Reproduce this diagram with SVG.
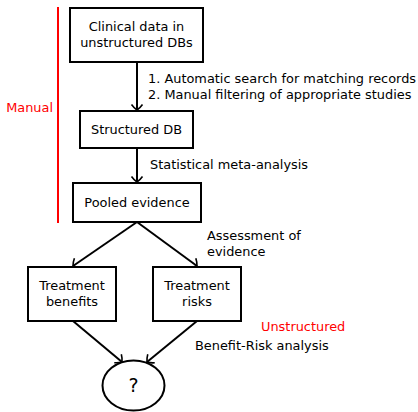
<svg xmlns="http://www.w3.org/2000/svg" width="418" height="412" viewBox="0 0 418 412">
<style>
text{font-family:"DejaVu Sans",sans-serif;font-size:12.9px;fill:#000}
.c{text-anchor:middle}
.red{fill:#ff0000}
.box{fill:#fff;stroke:#000;stroke-width:2}
.edge{fill:none;stroke:#000;stroke-width:2;marker-end:url(#ah)}
</style>
<defs>
<marker id="ah" markerWidth="14" markerHeight="14" refX="7" refY="7" orient="auto" markerUnits="userSpaceOnUse">
<path d="M1.5,1.5 Q5,4 7,7 Q5,10 1.5,12.5" fill="none" stroke="#000" stroke-width="1.6"/>
</marker>
</defs>
<rect width="418" height="412" fill="#fff"/>
<line x1="58" y1="7" x2="58" y2="223" stroke="#ff0000" stroke-width="2"/>
<text class="red" x="53" y="112" text-anchor="end">Manual</text>
<g id="connectors">
<line class="edge" x1="137" y1="62" x2="137" y2="110"/>
<line class="edge" x1="137" y1="148" x2="137" y2="182"/>
<line class="edge" x1="137" y1="222" x2="73" y2="266"/>
<line class="edge" x1="137" y1="222" x2="197" y2="266"/>
<line class="edge" x1="73" y1="321" x2="122" y2="362"/>
<line class="edge" x1="197" y1="321" x2="147" y2="362"/>
</g>
<text x="148" y="83">1. Automatic search for matching records</text>
<text x="148" y="99">2. Manual filtering of appropriate studies</text>
<text x="150" y="169">Statistical meta-analysis</text>
<text x="207" y="240">Assessment of</text>
<text x="207" y="256">evidence</text>
<text class="red" x="261" y="331">Unstructured</text>
<text x="195" y="350">Benefit-Risk analysis</text>
<g id="n1">
<rect class="box" x="70" y="8" width="133" height="54"/>
<text class="c" x="136.5" y="31">Clinical data in</text>
<text class="c" x="136.5" y="47">unstructured DBs</text>
</g>
<g id="n2">
<rect class="box" x="80" y="111" width="113" height="37"/>
<text class="c" x="136.5" y="134">Structured DB</text>
</g>
<g id="n3">
<rect class="box" x="73" y="183" width="128" height="39"/>
<text class="c" x="137" y="207">Pooled evidence</text>
</g>
<g id="n4">
<rect class="box" x="28" y="267" width="88" height="54"/>
<text class="c" x="72" y="290">Treatment</text>
<text class="c" x="72" y="306">benefits</text>
</g>
<g id="n5">
<rect class="box" x="153" y="267" width="88" height="54"/>
<text class="c" x="197" y="290">Treatment</text>
<text class="c" x="197" y="306">risks</text>
</g>
<g id="n6">
<ellipse cx="133.5" cy="385.5" rx="31" ry="25" fill="#fff" stroke="#000" stroke-width="2"/>
<text class="c" x="133.5" y="392" style="font-size:19px">?</text>
</g>
</svg>
